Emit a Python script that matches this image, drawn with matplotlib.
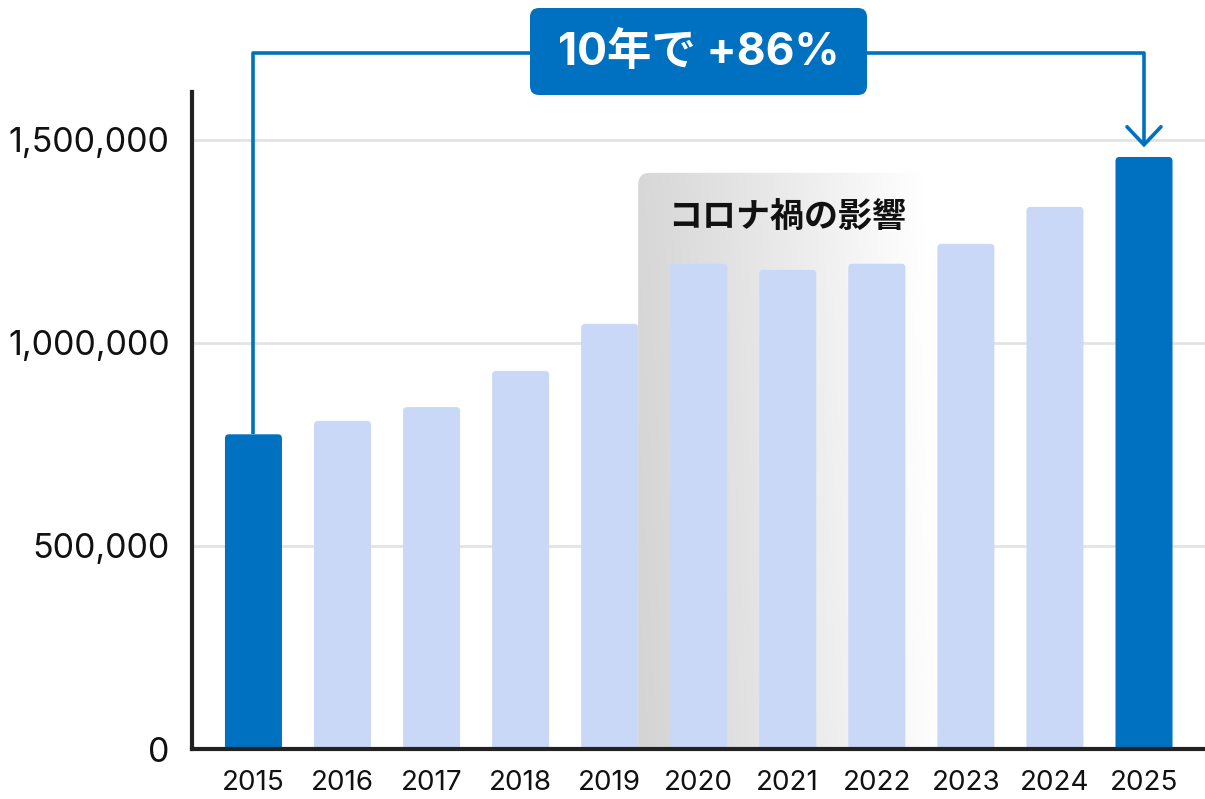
import matplotlib
matplotlib.use("Agg")
import matplotlib.pyplot as plt
import numpy as np
from matplotlib.patches import FancyBboxPatch
from matplotlib.colors import to_rgb

years = ["2015", "2016", "2017", "2018", "2019", "2020", "2021", "2022", "2023", "2024", "2025"]
values = [775000, 808000, 842000, 931000, 1047000, 1195000, 1180000, 1195000, 1244000, 1335000, 1458000]
highlight = ["2015", "2025"]
yticks = [0, 500000, 1000000, 1500000]
ytick_labels = ["0", "500,000", "1,000,000", "1,500,000"]
badge_text = "10年で +86%"
covid_text = "コロナ禍の影響"

DARK = "#0070c0"
LIGHT = "#c9d8f7"
W, H = 1205, 799
fig = plt.figure(figsize=(W / 100, H / 100), dpi=100)
ax = fig.add_axes([192 / W, 50 / H, (W - 192) / W, (749 - 92) / H])
ymax = 1618000
ax.set_xlim(-0.69, 10.685)
ax.set_ylim(0, ymax)

# px scales
px_x = (10.685 + 0.69) / (W - 192)
px_y = ymax / (749 - 92)

# grid
for t in yticks[1:]:
    ax.axhline(t, color="#e3e3e3", lw=2, zorder=0)

# gradient region (covid)
x0, x1 = 4.32, 7.75
ytop = 1419000
nx, ny = 300, 100
gx = np.linspace(0, 1, nx)
gy = np.linspace(0, 1, ny)[:, None]
c0 = np.array(to_rgb("#d4d4d4"))
c1 = np.array([1.0, 1.0, 1.0])
t = np.clip(gx[None, :] ** 1.1 + 0.08 * gy, 0, 1)
img = c0[None, None, :] * (1 - t[..., None]) + c1[None, None, :] * t[..., None]
im = ax.imshow(img, extent=[x0, x1, 0, ytop], origin="lower", aspect="auto", zorder=1,
               interpolation="bilinear")
r = 12 * px_x
clip = FancyBboxPatch((x0, -50000), x1 - x0, ytop + 50000,
                      boxstyle=f"round,pad=0,rounding_size={r}",
                      mutation_aspect=px_y / px_x, transform=ax.transData,
                      facecolor="none", edgecolor="none")
ax.add_patch(clip)
im.set_clip_path(clip)

# bars
bw = 57 * px_x
rs = 4 * px_x
for i, (yr, v) in enumerate(zip(years, values)):
    col = DARK if yr in highlight else LIGHT
    p = FancyBboxPatch((i - bw / 2, -60000), bw, v + 60000,
                       boxstyle=f"round,pad=0,rounding_size={rs}",
                       mutation_aspect=px_y / px_x,
                       facecolor=col, edgecolor="none", zorder=3)
    ax.add_patch(p)

ax.text(4.655, 1308000, covid_text, fontsize=24.5, fontweight="bold",
        family=["Noto Sans CJK JP", "DejaVu Sans"], color="#111111",
        ha="left", va="center", zorder=4)

# spines
for s in ["top", "right"]:
    ax.spines[s].set_visible(False)
ax.spines["left"].set_linewidth(3)
ax.spines["bottom"].set_linewidth(3)
ax.spines["left"].set_color("#222222")
ax.spines["bottom"].set_color("#222222")
ax.spines["left"].set_zorder(5)
ax.spines["bottom"].set_zorder(5)

ax.set_yticks(yticks)
ax.set_yticklabels(ytick_labels)
ax.set_xticks(range(len(years)))
ax.set_xticklabels(years)
ax.tick_params(axis="y", length=0, pad=16, labelsize=24.5, labelcolor="#111111")
ax.tick_params(axis="x", length=0, pad=15, labelsize=20, labelcolor="#111111")
for lab in ax.get_yticklabels() + ax.get_xticklabels():
    lab.set_family(["Inter", "DejaVu Sans"])

# bracket annotation
i0 = years.index("2015")
i1 = years.index("2025")
yline = 1714000
ytip = 1488000
ax.plot([i0, i0, i1, i1], [values[i0], yline, yline, ytip], color=DARK, lw=2.6,
        clip_on=False, zorder=6, solid_joinstyle="round", solid_capstyle="butt")
ax.plot([i1 - 17 * px_x, i1, i1 + 17 * px_x], [ytip + 18 * px_y, ytip, ytip + 18 * px_y],
        color=DARK, lw=2.6, clip_on=False, zorder=6, solid_joinstyle="miter",
        solid_capstyle="round")

# badge
bx, by, bwid, bh = 530, 8, 337, 87
badge = FancyBboxPatch((bx / W, 1 - (by + bh) / H), bwid / W, bh / H,
                       boxstyle=f"round,pad=0,rounding_size={9 / W}",
                       mutation_aspect=W / H, transform=fig.transFigure,
                       facecolor=DARK, edgecolor="none", zorder=10)
fig.patches.append(badge)
fig.text((bx + bwid / 2) / W, 1 - (by + bh / 2 + 1) / H, badge_text, fontsize=32,
         fontweight="bold", color="white", ha="center", va="center",
         family=["Inter", "Noto Sans CJK JP"], zorder=11)

fig.savefig("out.png", dpi=100)
